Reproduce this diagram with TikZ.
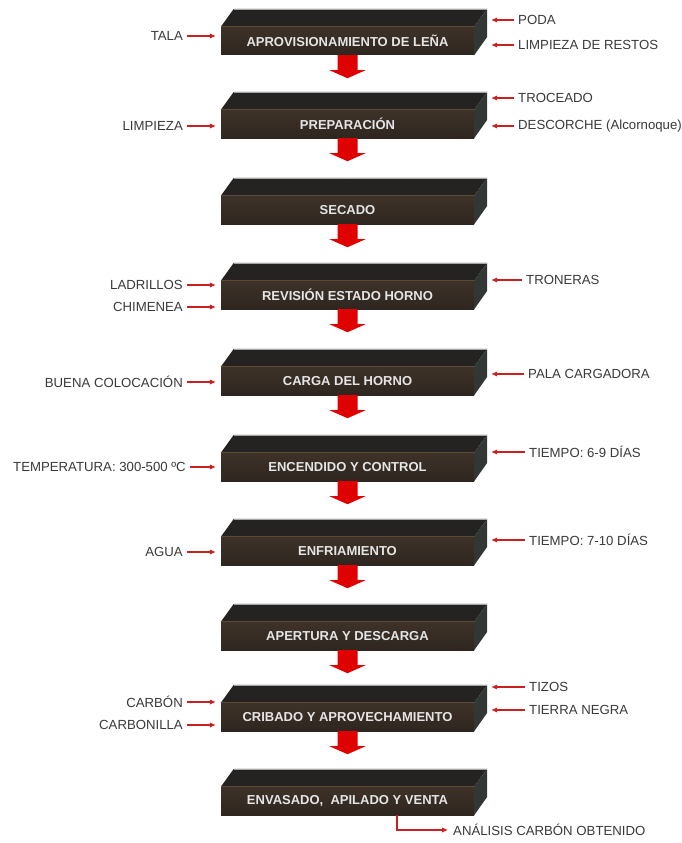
\documentclass[tikz,border=0pt]{standalone}
\usepackage{fontspec}
\setmainfont{Liberation Sans}
\usetikzlibrary{arrows.meta,calc}
\definecolor{lblred}{HTML}{CC1F1F}
\definecolor{blockred}{HTML}{E00000}
\definecolor{lbltext}{HTML}{3A3A3A}
\definecolor{frontc}{HTML}{3E3228}
\definecolor{frontd}{HTML}{2E2620}
\definecolor{topc}{HTML}{252321}
\definecolor{sidec}{HTML}{313733}
\definecolor{edgec}{HTML}{5C4A38}
\newcommand\blockarr[1]{%
  \fill[blockred] ($(#1.south)+(-10,0)$) -- ++(20,0) -- ++(0,15) -- ++(8,0)
    -- ++(-18,8) -- ++(-18,-8) -- ++(8,0) -- cycle;}
\begin{document}
\begin{tikzpicture}[x=1pt,y=-1pt,
  frontface/.style={minimum width=253pt, minimum height=28pt, inner sep=0pt,
    top color=frontc, bottom color=frontd, text=white!90!black,
    font=\bfseries\fontsize{13}{15}\selectfont},
  topface/.style={fill=topc},
  sideface/.style={fill=sidec},
  lbl/.style={text=lbltext, font=\fontsize{13.2}{15}\selectfont, inner sep=0pt},
  lblarrow/.style={draw=lblred, line width=1.1pt, -{Latex[length=6pt,width=5.5pt]}}]
\useasboundingbox (0,0) rectangle (681,843);
\fill[white] (0,0) rectangle (681,843);
% boxes
\foreach \n/\t/\txt in {b1/9/{APROVISIONAMIENTO DE LEÑA}, b2/92/{PREPARACIÓN},
  b3/178/{SECADO}, b4/263/{REVISIÓN ESTADO HORNO}, b5/349/{CARGA DEL HORNO},
  b6/435/{ENCENDIDO Y CONTROL}, b7/519/{ENFRIAMIENTO}, b8/604/{APERTURA Y DESCARGA},
  b9/685/{CRIBADO Y APROVECHAMIENTO}, b10/769/{ENVASADO,\ \ APILADO Y VENTA}}{
  \node[frontface] (\n) at (347.5,\t+32) {\txt};
  \fill[topface] (\n.north west) -- ++(13,-18) -- ($(\n.north east)+(13,-18)$)
    -- (\n.north east) -- cycle;
  \fill[sideface] (\n.north east) -- ++(13,-18) -- ++(0,28) -- (\n.south east) -- cycle;
  \draw[edgec, line width=0.8pt] (\n.north west) -- (\n.north east);
  \draw[gray!70, line width=0.5pt] ($(\n.north west)+(13,-18)$) -- ($(\n.north east)+(13,-18)$);
  \coordinate (\n-r) at ($(\n.east)+(13,0)$);
}
% block arrows
\foreach \n in {b1,b2,b3,b4,b5,b6,b7,b8,b9}{\blockarr{\n}}
% left labels
\foreach \nm/\x/\y/\b/\txt in {l1/183/36/b1/{TALA}, l2/183/126/b2/{LIMPIEZA},
  l4a/183/285/b4/{LADRILLOS}, l4b/183/307/b4/{CHIMENEA},
  l5/183/382/b5/{BUENA COLOCACIÓN}, l6/186/467/b6/{TEMPERATURA: 300-500 ºC},
  l7/183/552/b7/{AGUA}, l9a/183/702/b9/{CARBÓN}, l9b/183/725/b9/{CARBONILLA}}{
  \node[lbl, anchor=east] (\nm) at (\x,\y) {\txt};
  \draw[lblarrow, shorten <=4pt, shorten >=5pt] (\nm.east) -- (\nm.east -| \b.west);
}
% right labels
\foreach \nm/\x/\y/\b/\txt in {r1a/518/20/b1/{PODA}, r1b/518/45/b1/{LIMPIEZA DE RESTOS},
  r2a/518/98/b2/{TROCEADO}, r2b/518/126/b2/{DESCORCHE (Alcornoque)},
  r4/526/280/b4/{TRONERAS}, r5/528/374/b5/{PALA CARGADORA},
  r6/529/452/b6/{TIEMPO: 6-9 DÍAS}, r7/529/540/b7/{TIEMPO: 7-10 DÍAS},
  r9a/529/687/b9/{TIZOS}, r9b/529/710/b9/{TIERRA NEGRA}}{
  \node[lbl, anchor=west] (\nm) at (\x,\y) {\txt};
  \draw[lblarrow, shorten <=4pt, shorten >=4pt] (\nm.west) -- (\nm.west -| \b-r);
}
% bottom label
\node[lbl, anchor=west] (ana) at (453,830) {ANÁLISIS CARBÓN OBTENIDO};
\coordinate (b10-d) at ($(b10.south)+(49.5,0)$);
\draw[lblarrow, shorten >=5pt] (b10-d) |- (ana.west);
\end{tikzpicture}
\end{document}
